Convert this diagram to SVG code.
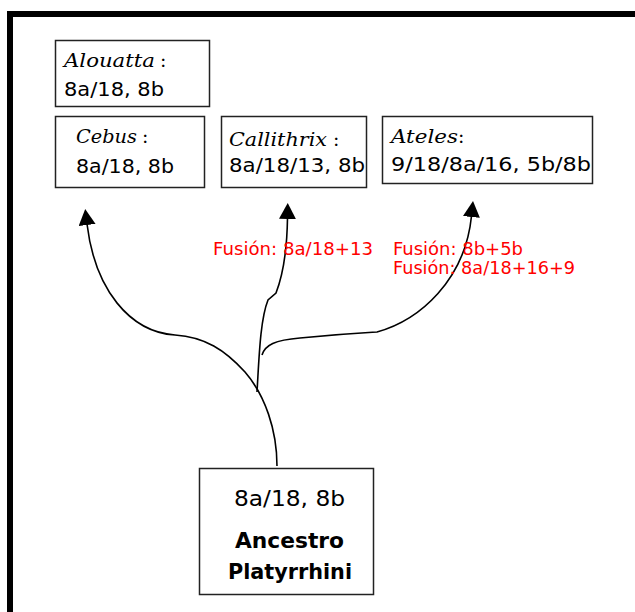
<svg xmlns="http://www.w3.org/2000/svg" width="635" height="612" viewBox="0 0 635 612">
<defs>
<style>
.box{fill:#fff;stroke:#222;stroke-width:1.5}
.gen{font-family:"DejaVu Serif","Liberation Serif",serif;font-style:italic;font-size:19px;fill:#000}
.col{font-family:"DejaVu Serif","Liberation Serif",serif;font-size:19px;fill:#000}
.num{font-family:"DejaVu Sans","Liberation Sans",sans-serif;font-size:19px;fill:#000}
.anc{font-family:"DejaVu Sans","Liberation Sans",sans-serif;font-size:21px;fill:#000}
.ancb{font-family:"DejaVu Sans","Liberation Sans",sans-serif;font-size:21px;font-weight:bold;fill:#000}
.fus{font-family:"DejaVu Sans","Liberation Sans",sans-serif;font-size:17.5px;fill:#ff0000}
.edge{fill:none;stroke:#000;stroke-width:1.6}
</style>
<marker id="arr" markerUnits="userSpaceOnUse" markerWidth="20" markerHeight="20" refX="1" refY="8.5" orient="auto">
<polygon points="0,0 16,8.5 0,17" fill="#000"/>
</marker>
</defs>
<rect width="635" height="612" fill="#fff"/>
<path d="M10,620 L10,14 L645,14" fill="none" stroke="#000" stroke-width="6"/>

<g id="alouatta">
<rect class="box" x="55.5" y="40.5" width="154" height="66"/>
<text class="gen" x="64" y="67" textLength="91" lengthAdjust="spacingAndGlyphs">Alouatta</text>
<text class="col" x="160" y="67">:</text>
<text class="num" x="64" y="96" textLength="100" lengthAdjust="spacingAndGlyphs">8a/18, 8b</text>
</g>

<g id="cebus">
<rect class="box" x="55.5" y="116.5" width="149" height="71"/>
<text class="gen" x="76" y="143" textLength="61" lengthAdjust="spacingAndGlyphs">Cebus</text>
<text class="col" x="142" y="143">:</text>
<text class="num" x="76" y="173" textLength="98" lengthAdjust="spacingAndGlyphs">8a/18, 8b</text>
</g>

<g id="callithrix">
<rect class="box" x="221.5" y="116.5" width="145" height="71"/>
<text class="gen" x="229" y="146" textLength="98" lengthAdjust="spacingAndGlyphs">Callithrix</text>
<text class="col" x="333" y="146">:</text>
<text class="num" x="229" y="172" textLength="136" lengthAdjust="spacingAndGlyphs">8a/18/13, 8b</text>
</g>

<g id="ateles">
<rect class="box" x="382.5" y="116.5" width="210" height="67"/>
<text class="gen" x="391" y="143" textLength="67" lengthAdjust="spacingAndGlyphs">Ateles</text>
<text class="col" x="458" y="143">:</text>
<text class="num" x="391" y="171" textLength="200" lengthAdjust="spacingAndGlyphs">9/18/8a/16, 5b/8b</text>
</g>

<g id="ancestro">
<rect class="box" x="199.5" y="468.5" width="174" height="126"/>
<text class="anc" x="234" y="506" textLength="111" lengthAdjust="spacingAndGlyphs">8a/18, 8b</text>
<text class="ancb" x="235" y="548" textLength="109" lengthAdjust="spacingAndGlyphs">Ancestro</text>
<text class="ancb" x="228" y="579" textLength="124" lengthAdjust="spacingAndGlyphs">Platyrrhini</text>
</g>

<g id="connectors">
<path class="edge" d="M277,466 C277,430 265,395 245,372 C225,350 205,337 175,335 C130,332 95,290 87,224" marker-end="url(#arr)"/>
<path class="edge" d="M257,392 C259,360 260,320 268,300 L276,293 C283,275 287,250 287.5,218" marker-end="url(#arr)"/>
<path class="edge" d="M262,355 C265,345 275,340 300,338 C340,334 360,333 377,332 C420,320 465,280 471.5,216" marker-end="url(#arr)"/>
</g>

<g id="labels">
<text class="fus" x="213" y="255" textLength="160" lengthAdjust="spacingAndGlyphs">Fusión: 8a/18+13</text>
<text class="fus" x="393" y="255" textLength="130" lengthAdjust="spacingAndGlyphs">Fusión: 8b+5b</text>
<text class="fus" x="393" y="274" textLength="182" lengthAdjust="spacingAndGlyphs">Fusión: 8a/18+16+9</text>
</g>
</svg>
